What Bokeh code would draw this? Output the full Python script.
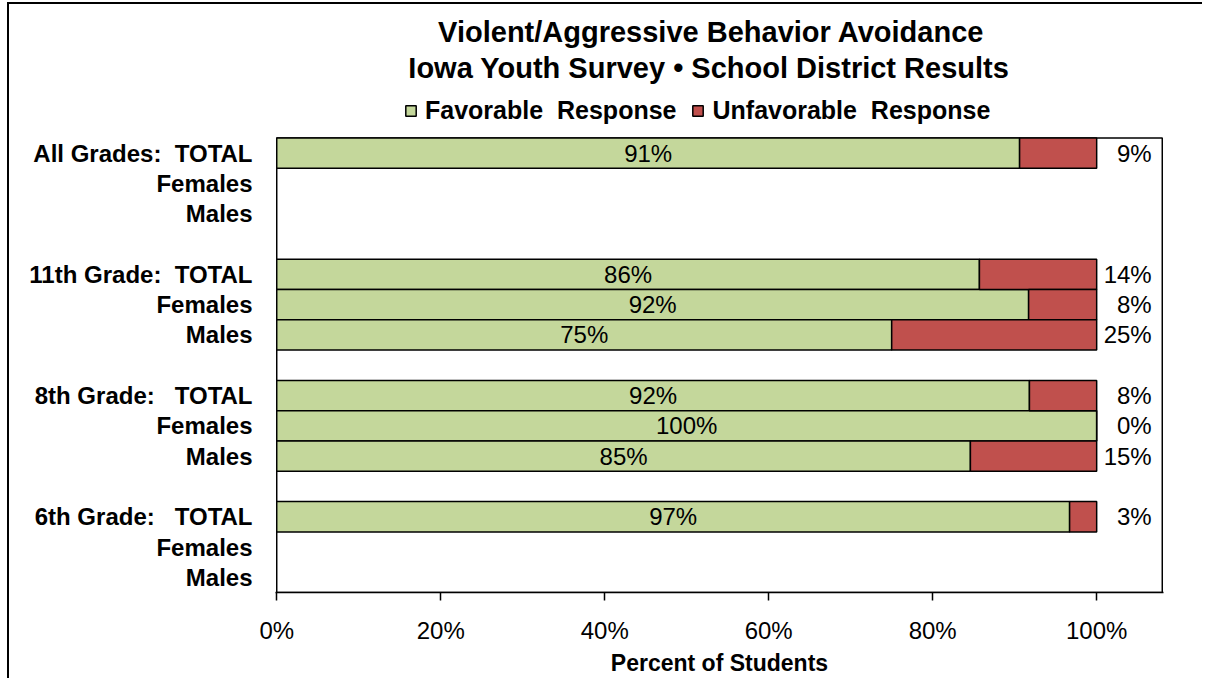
from bokeh.plotting import figure
from bokeh.models import (ColumnDataSource, Range1d, FixedTicker, Legend, LegendItem)
from bokeh.embed import file_html
from bokeh.resources import INLINE
from bokeh.core.properties import value

# ---------------- data ----------------
row_labels = [
    "All Grades:\u00a0 TOTAL", "Females", "Males",
    "11th Grade:\u00a0 TOTAL", "Females", "Males",
    "8th Grade:\u00a0\u00a0 TOTAL", "Females", "Males",
    "6th Grade:\u00a0\u00a0 TOTAL", "Females", "Males",
]
favorable = [90.6, None, None, 85.7, 91.7, 75.0, 91.8, 100.0, 84.6, 96.7, None, None]
unfavorable = [9.4, None, None, 14.3, 8.3, 25.0, 8.2, 0.0, 15.4, 3.3, None, None]
x_ticks = [0, 20, 40, 60, 80, 100]
title_1 = "Violent/Aggressive Behavior Avoidance"
title_2 = "Iowa Youth Survey \u2022 School District Results"
series_names = ["Favorable\u00a0 Response", "Unfavorable\u00a0 Response"]
x_title = "Percent of Students"

FONT = "Liberation Sans"
GREEN = "#C4D79B"
RED = "#C0504D"

# ---------------- layout constants (pixels) ----------------
W, H = 1195, 676
B_LEFT, B_RIGHT, B_TOP, B_BOTTOM = 266, 41, 0, 88
FRAME_H = H - B_TOP - B_BOTTOM          # frame covers the title area as well
N_ROWS = 15                              # 4 groups x 3 rows + 3 blank rows
DATA_H = 454.5                           # height of the bar area in px
PX_ROW = DATA_H / N_ROWS
HEADER_ROWS = (FRAME_H - DATA_H) / PX_ROW
X_MAX = 108.0

# row positions: 3 rows per group plus one blank row between groups
row_pos = [4 * (i // 3) + (i % 3) for i in range(len(row_labels))]

ys, fav, unf, fav_lab, unf_lab, fav_mid = [], [], [], [], [], []
for y, f, u in zip(row_pos, favorable, unfavorable):
    if f is None:
        continue
    ys.append(y)
    fav.append(f)
    unf.append(u)
    fav_mid.append(f / 2)
    fav_lab.append(f"{round(f)}%")
    unf_lab.append(f"{round(u)}%")

src = ColumnDataSource(dict(y=ys, fav=fav, unf=unf, total=[f + u for f, u in zip(fav, unf)],
                            fav_mid=fav_mid, fav_lab=fav_lab, unf_lab=unf_lab,
                            right_x=[100] * len(ys)))

y_bottom = N_ROWS - 0.5
y_top = -0.5 - HEADER_ROWS
p = figure(width=W, height=H, output_backend="svg", toolbar_location=None,
           x_range=Range1d(-0.15, X_MAX + 0.15), y_range=Range1d(y_bottom, y_top),
           min_border_left=B_LEFT, min_border_right=B_RIGHT,
           min_border_top=B_TOP, min_border_bottom=B_BOTTOM)
p.styles = {"margin-left": "7px", "margin-top": "2px",
            "border-left": "2px solid black", "border-top": "2px solid black"}
p.background_fill_color = "white"
p.border_fill_color = "white"
p.outline_line_color = None
p.xgrid.visible = False
p.ygrid.visible = False

# plot-area border
p.quad(left=[0], right=[X_MAX], top=[-0.5], bottom=[y_bottom],
       fill_color=None, line_color="black", line_width=1.5)

r1 = p.hbar(y="y", left=0, right="fav", height=1.0, source=src,
            fill_color=GREEN, line_color="black", line_width=1.5)
r2 = p.hbar(y="y", left="fav", right="total", height=1.0, source=src,
            fill_color=RED, line_color="black", line_width=1.5)

p.text(x="fav_mid", y="y", text="fav_lab", source=src, text_align="center",
       text_baseline="middle", text_font=value(FONT), text_font_size="24px", text_color="black")
p.text(x="right_x", y="y", text="unf_lab", source=src, text_align="right", x_offset=55,
       text_baseline="middle", text_font=value(FONT), text_font_size="24px", text_color="black")

# titles, placed in the header rows above the bars
def row_of(page_y):
    return -0.5 - (137.5 - page_y) / PX_ROW

p.text(x=[53.0, 52.7], y=[row_of(31), row_of(67)], text=[title_1, title_2],
       text_align="center", text_baseline="middle", text_font=value(FONT),
       text_font_size="29px", text_font_style="bold", text_color="black")

# x axis
xa = p.xaxis[0]
xa.ticker = FixedTicker(ticks=x_ticks)
xa.major_label_overrides = {t: f"{t}%" for t in x_ticks}
xa.minor_tick_line_color = None
xa.major_tick_out = 8
xa.major_tick_in = 0
xa.major_tick_line_color = "black"
xa.major_tick_line_width = 1.5
xa.axis_line_color = "black"
xa.axis_line_width = 1.5
xa.major_label_text_font = FONT
xa.major_label_text_font_size = "24px"
xa.major_label_text_color = "black"
xa.major_label_standoff = 16
xa.axis_label = x_title
xa.axis_label_text_font = FONT
xa.axis_label_text_font_size = "23px"
xa.axis_label_text_font_style = "bold"
xa.axis_label_text_color = "black"
xa.axis_label_standoff = 3

# y axis (labels only; the line is the plot-area border)
ya = p.yaxis[0]
ya.ticker = FixedTicker(ticks=row_pos)
ya.major_label_overrides = {pos: lab for pos, lab in zip(row_pos, row_labels)}
ya.minor_tick_line_color = None
ya.major_tick_line_color = None
ya.major_tick_out = 0
ya.major_tick_in = 0
ya.axis_line_color = None
ya.major_label_text_font = FONT
ya.major_label_text_font_size = "24px"
ya.major_label_text_font_style = "bold"
ya.major_label_text_color = "black"
ya.major_label_standoff = 23

legend = Legend(items=[LegendItem(label=series_names[0], renderers=[r1]),
                       LegendItem(label=series_names[1], renderers=[r2])],
                location=(129, 467), orientation="horizontal",
                glyph_width=13, glyph_height=13, label_standoff=8, spacing=15,
                padding=0, margin=0, border_line_alpha=0, background_fill_alpha=0,
                label_text_font=FONT, label_text_font_size="25px",
                label_text_font_style="bold", label_text_color="black")
p.add_layout(legend)

open("out.html", "w").write(file_html(p, INLINE))
